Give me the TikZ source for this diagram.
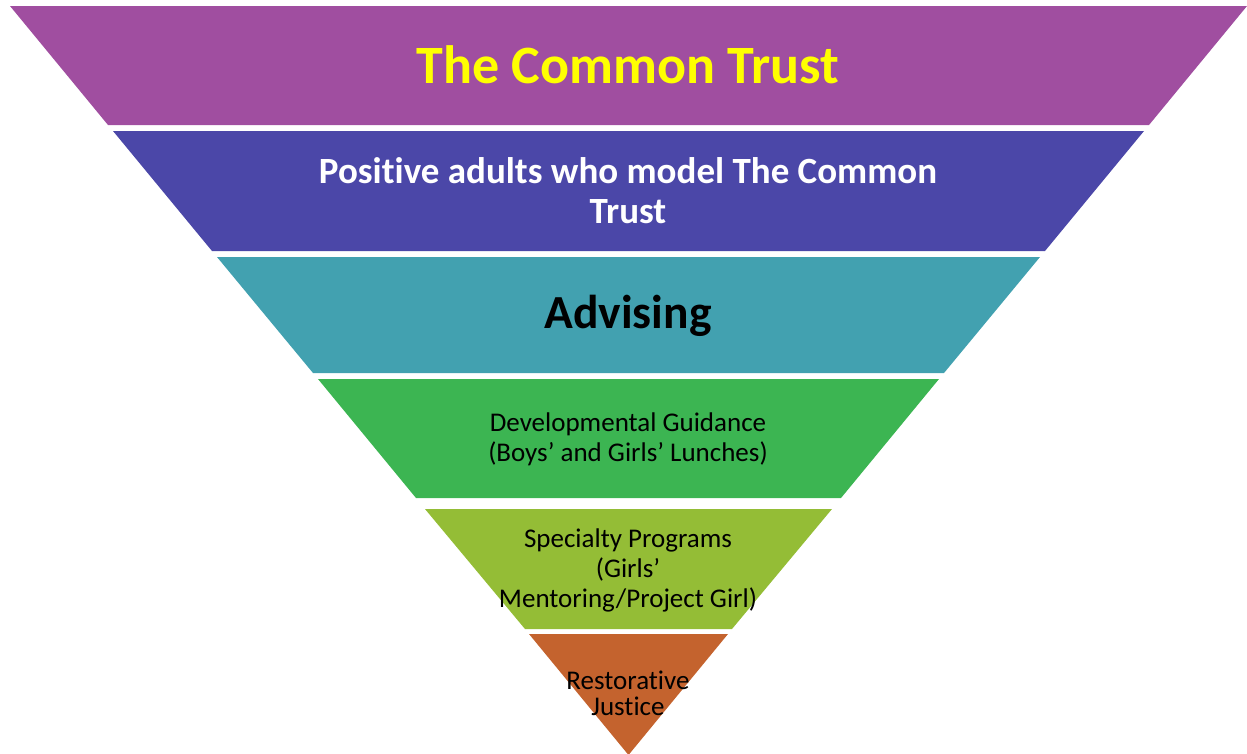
\documentclass[tikz,border=0pt]{standalone}
\usepackage{fontspec}
\setmainfont{Carlito}[Ligatures={NoCommon}]
\definecolor{trustpurple}{RGB}{160,78,160}
\definecolor{adultblue}{RGB}{75,71,168}
\definecolor{advteal}{RGB}{66,161,176}
\definecolor{guidgreen}{RGB}{60,181,82}
\definecolor{specgreen}{RGB}{148,189,54}
\definecolor{restorange}{RGB}{196,99,46}
\definecolor{titleyellow}{RGB}{255,255,0}
\begin{document}
\begin{tikzpicture}[x=1pt,y=-1pt,
    lbl/.style={align=center,inner sep=0pt},
    small/.style={lbl,font=\fontsize{27}{30}\selectfont}]
      \useasboundingbox (0,0) rectangle (1247,753);
      \fill[trustpurple] (10,6) -- (1247,6) -- (1149,125) -- (108,125) -- cycle;
      \fill[adultblue] (113,131) -- (1144,131) -- (1045,251) -- (212,251) -- cycle;
      \fill[advteal] (217,257) -- (1040,257) -- (944,373) -- (313,373) -- cycle;
      \fill[guidgreen] (318,379) -- (939,379) -- (841,498) -- (416,498) -- cycle;
      \fill[specgreen] (425,509) -- (832,509) -- (732,629) -- (525,629) -- cycle;
      \fill[restorange] (529,634) -- (728,634) -- (628.5,755) -- cycle;
      \node[lbl,font=\fontsize{54}{60}\selectfont\bfseries,text=titleyellow] (trust) at (628,65) {The Common Trust};
      \node[lbl,font=\fontsize{37}{40}\selectfont\bfseries,text=white] (adults) at (628,191) {Positive adults who model The Common\\Trust};
      \node[lbl,font=\fontsize{47.5}{55}\selectfont\bfseries] (advising) at (628,316) {Advising};
      \node[small] (guidance) at (628,439) {Developmental Guidance\\(Boys’ and Girls’ Lunches)};
      \node[small] (specialty) at (628,570) {Specialty Programs\\(Girls’\\Mentoring/Project Girl)};
      \node[small,font=\fontsize{27}{26}\selectfont] (restorative) at (628,693) {Restorative\\Justice};
     \end{tikzpicture}
\end{document}
